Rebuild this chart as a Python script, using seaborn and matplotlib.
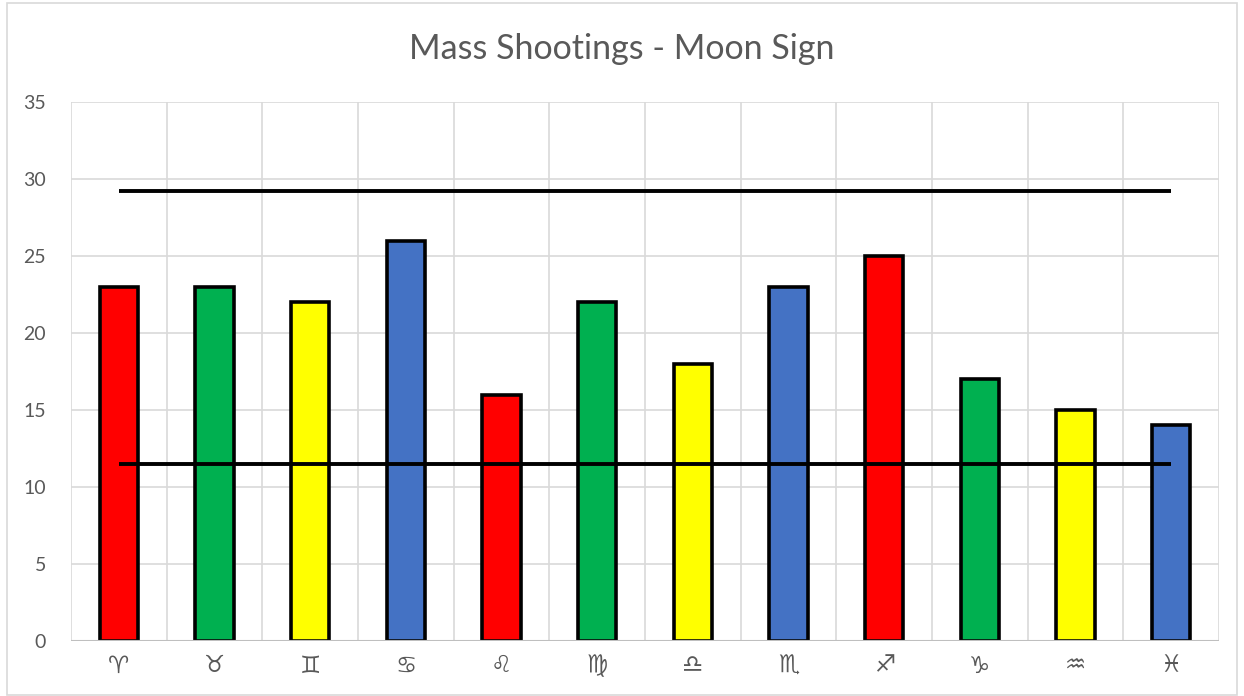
import matplotlib
matplotlib.use("Agg")
import matplotlib.pyplot as plt
import seaborn as sns
import pandas as pd
from matplotlib.patches import Rectangle

signs = ["\u2648", "\u2649", "\u264A", "\u264B", "\u264C", "\u264D",
         "\u264E", "\u264F", "\u2650", "\u2651", "\u2652", "\u2653"]
counts = [23, 23, 22, 26, 16, 22, 18, 23, 25, 17, 15, 14]
bar_colors = ["#FF0000", "#00B050", "#FFFF00", "#4472C4"] * 3
upper_line = 29.2
lower_line = 11.5
title = "Mass Shootings - Moon Sign"

sns.set_theme(style="white")
plt.rcParams['font.family'] = ['Lato', 'DejaVu Sans']

df = pd.DataFrame({"sign": signs, "count": counts})

fig = plt.figure(figsize=(12.44, 6.96), dpi=100)
ax = fig.add_axes([71/1244, 1 - 641/696, (1219-71)/1244, (641-102)/696])

sns.barplot(data=df, x="sign", y="count", hue="sign", palette=bar_colors,
            order=signs, hue_order=signs, legend=False, width=0.4,
            edgecolor="black", linewidth=2.6, ax=ax, zorder=3, saturation=1)

ax.hlines([upper_line, lower_line], 0, len(signs) - 1, colors="black",
          linewidth=2.8, zorder=4)

ax.set_xlim(-0.5, len(signs) - 0.5)
ax.set_ylim(0, 35)
ax.set_yticks(range(0, 36, 5))
ax.set_xticks(range(len(signs)))
ax.set_xticklabels(signs, family=['DejaVu Sans'], fontweight='bold')
for x in [i - 0.5 for i in range(len(signs) + 1)]:
    ax.axvline(x, color="#D9D9D9", linewidth=1.2, zorder=0)
for y in range(5, 36, 5):
    ax.axhline(y, color="#D9D9D9", linewidth=1.2, zorder=0)
ax.axhline(0, color="#BFBFBF", linewidth=1.5, zorder=5)

for s in ax.spines.values():
    s.set_visible(False)
ax.tick_params(axis="both", length=0, labelsize=14, colors="#595959")
ax.tick_params(axis="x", pad=9, labelsize=17)
ax.tick_params(axis="y", pad=18)
ax.set_xlabel("")
ax.set_ylabel("")

fig.text(0.5, 1 - 49/696, title, ha="center", va="center",
         fontsize=24.5, color="#595959")

fig.patches.append(Rectangle((7/1244, 0.002), 1 - 14/1244, 0.993,
                             transform=fig.transFigure, fill=False,
                             edgecolor="#D9D9D9", linewidth=1.2))

fig.savefig("out.png", dpi=100)
